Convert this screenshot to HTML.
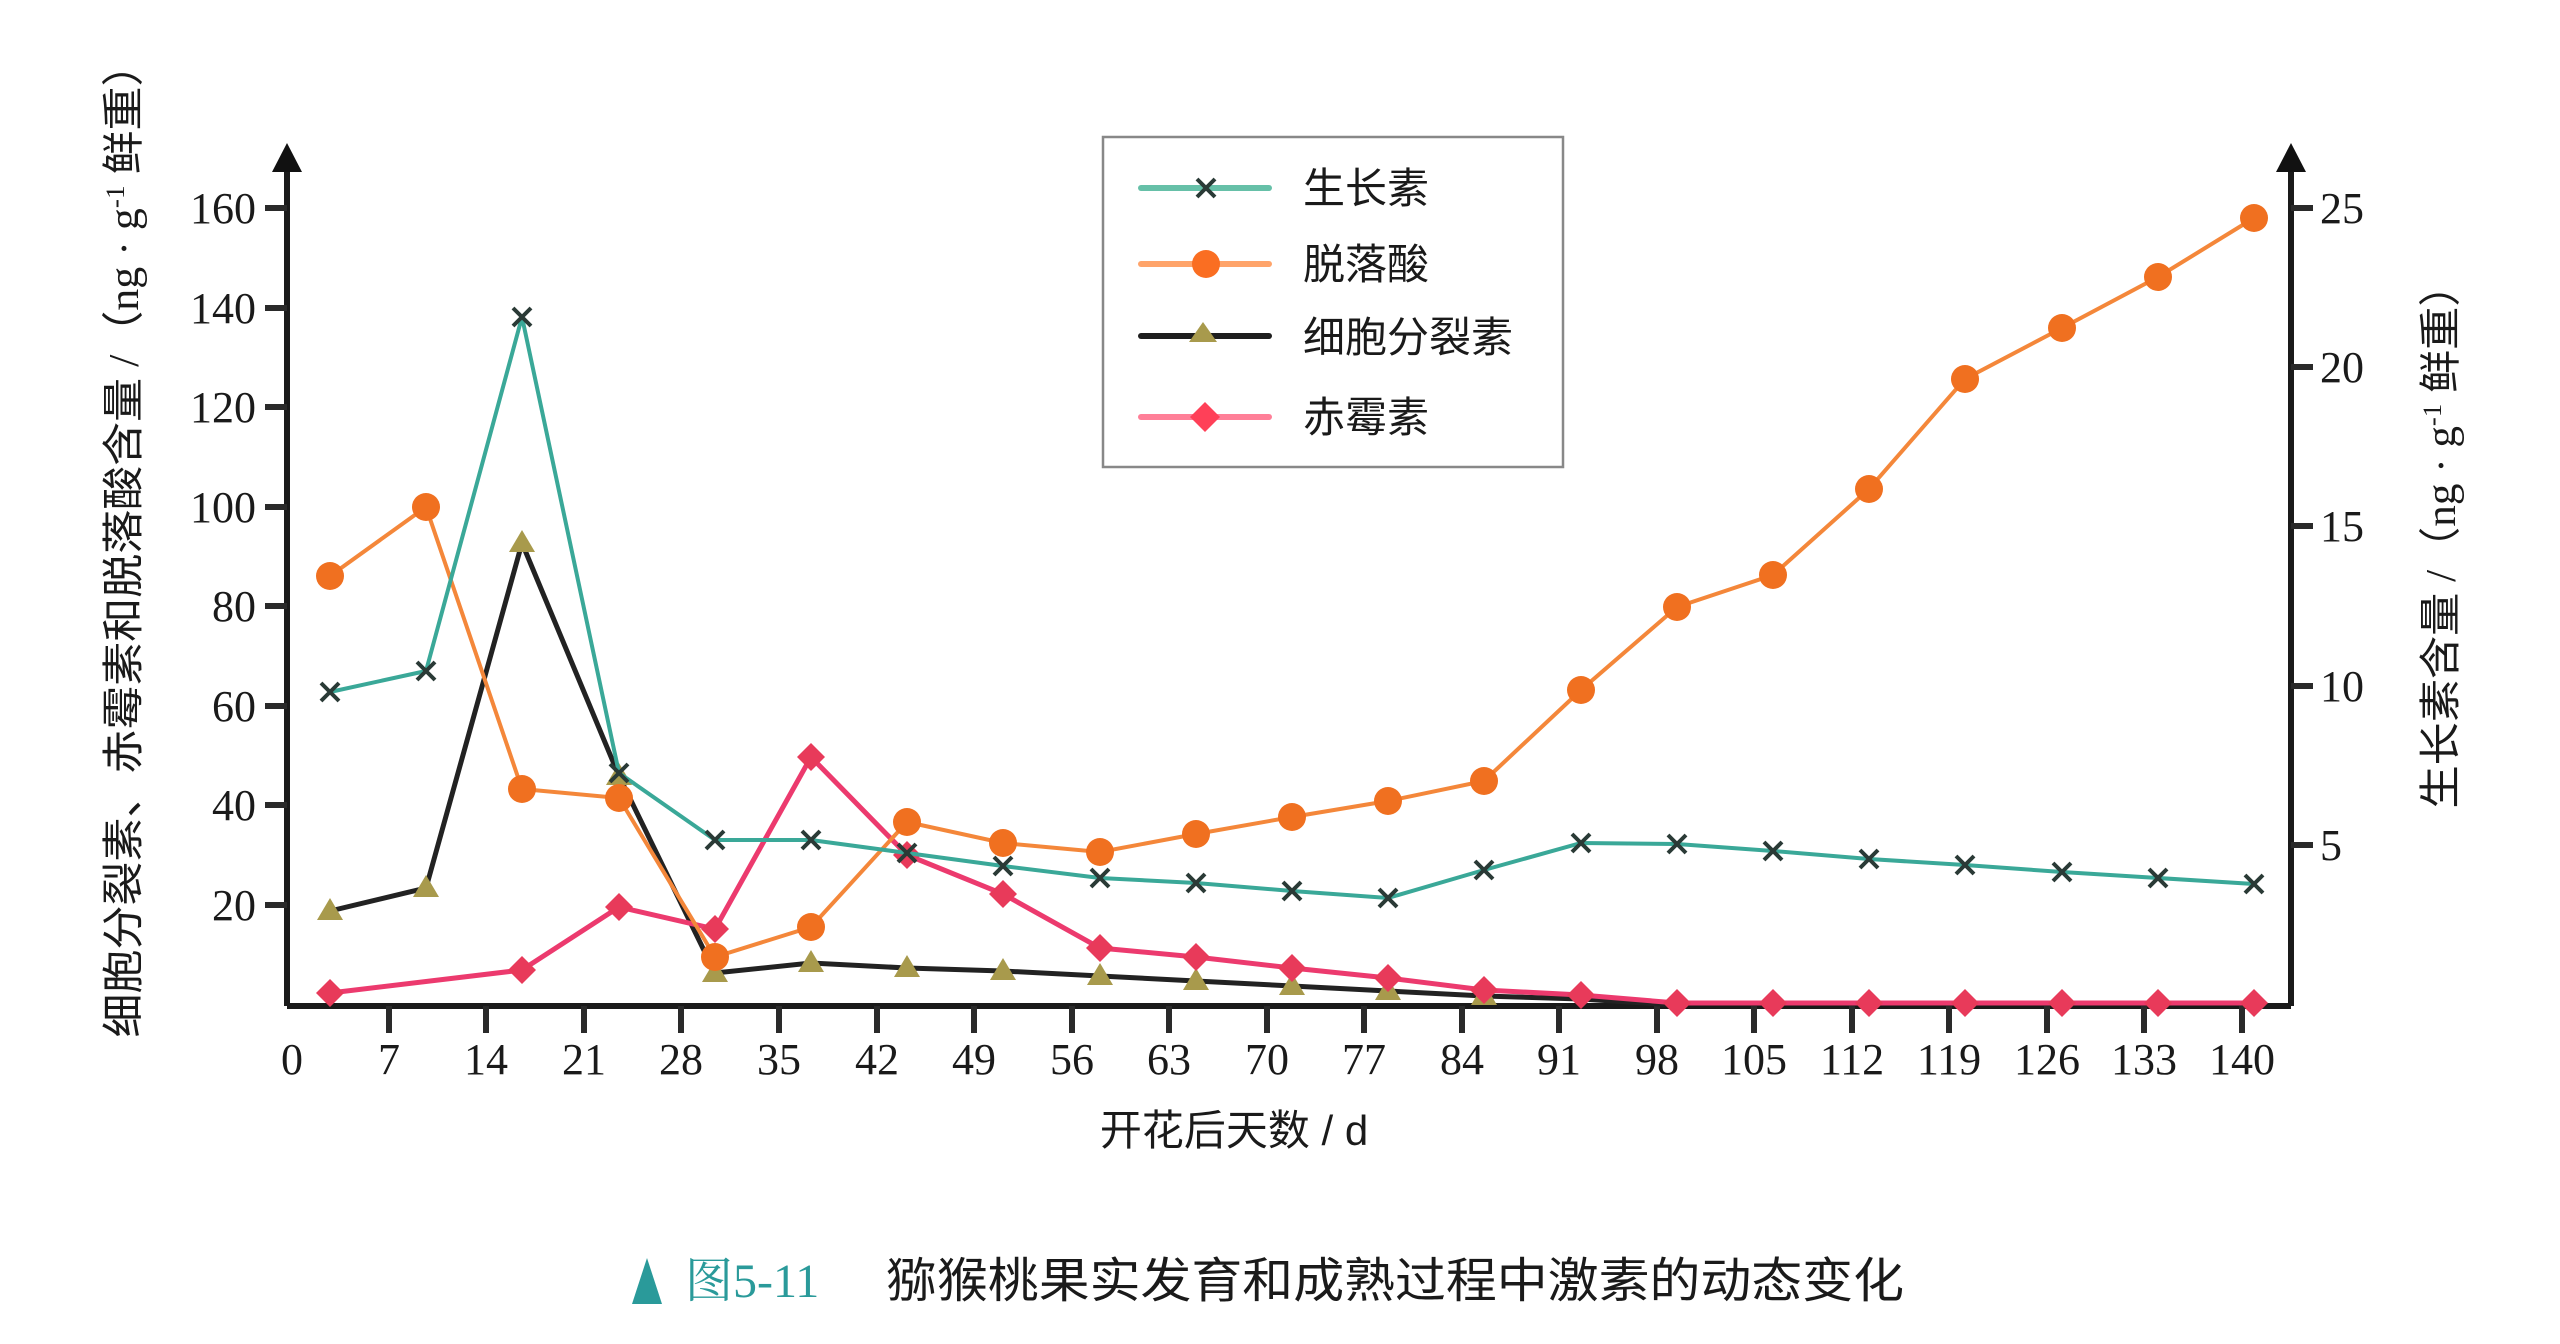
<!DOCTYPE html>
<html><head><meta charset="utf-8"><style>
html,body{margin:0;padding:0;background:#fff;}
svg{display:block;}
</style></head><body>
<svg width="2560" height="1344" viewBox="0 0 2560 1344" xmlns="http://www.w3.org/2000/svg">
<defs>
<g id="xm"><path d="M-9,-9L9,9M-9,9L9,-9" stroke="#2a3a36" stroke-width="4" fill="none"/></g>
<circle id="ci" r="14" fill="#f07020"/>
<path id="tr" d="M0,-13L13,9L-13,9Z" fill="#a89a4c"/>
<path id="di" d="M0,-14L14,0L0,14L-14,0Z" fill="#e83a5a"/>
</defs>
<g stroke="#1a1a1a" stroke-width="6" fill="none">
<path d="M287,1006H2291"/>
<path d="M287,1006V160"/>
<path d="M2291,1006V160"/>
</g>
<path d="M287,143L272,172H302Z" fill="#111"/>
<path d="M2291,143L2276,172H2306Z" fill="#111"/>
<g stroke="#2a2a2a" stroke-width="6">
<path d="M265,208H287M265,308H287M265,407H287M265,507H287M265,606H287M265,706H287M265,805H287M265,905H287"/>
<path d="M2291,208H2313M2291,367H2313M2291,526H2313M2291,686H2313M2291,845H2313"/>
<path d="M389,1006V1033M486,1006V1033M584,1006V1033M681,1006V1033M779,1006V1033M877,1006V1033M974,1006V1033M1072,1006V1033M1169,1006V1033M1267,1006V1033M1364,1006V1033M1462,1006V1033M1559,1006V1033M1657,1006V1033M1754,1006V1033M1852,1006V1033M1949,1006V1033M2047,1006V1033M2144,1006V1033M2242,1006V1033"/>
</g>
<g font-family="Liberation Serif, serif" font-size="44" fill="#1a1a1a">
<g text-anchor="end">
<text x="256" y="223">160</text><text x="256" y="323">140</text><text x="256" y="422">120</text><text x="256" y="522">100</text><text x="256" y="621">80</text><text x="256" y="721">60</text><text x="256" y="820">40</text><text x="256" y="920">20</text>
</g>
<g text-anchor="start">
<text x="2320" y="223">25</text><text x="2320" y="382">20</text><text x="2320" y="541">15</text><text x="2320" y="701">10</text><text x="2320" y="860">5</text>
</g>
<g text-anchor="middle">
<text x="292" y="1074">0</text><text x="389" y="1074">7</text><text x="486" y="1074">14</text><text x="584" y="1074">21</text><text x="681" y="1074">28</text><text x="779" y="1074">35</text><text x="877" y="1074">42</text><text x="974" y="1074">49</text><text x="1072" y="1074">56</text><text x="1169" y="1074">63</text><text x="1267" y="1074">70</text><text x="1364" y="1074">77</text><text x="1462" y="1074">84</text><text x="1559" y="1074">91</text><text x="1657" y="1074">98</text><text x="1754" y="1074">105</text><text x="1852" y="1074">112</text><text x="1949" y="1074">119</text><text x="2047" y="1074">126</text><text x="2144" y="1074">133</text><text x="2242" y="1074">140</text>
</g>
</g>
<text x="1234" y="1145" text-anchor="middle" font-family="Liberation Sans, 'Noto Sans CJK SC', sans-serif" font-size="42" fill="#1a1a1a">开花后天数 / d</text>
<text transform="translate(138,540) rotate(-90)" text-anchor="middle" font-family="Liberation Serif, 'Noto Sans CJK SC', sans-serif" font-size="42" fill="#1a1a1a" textLength="995" lengthAdjust="spacingAndGlyphs">细胞分裂素、赤霉素和脱落酸含量 /（ng · g<tspan dy="-14" font-size="26">-1</tspan><tspan dy="14"> 鲜重）</tspan></text>
<text transform="translate(2455,536) rotate(-90)" text-anchor="middle" font-family="Liberation Serif, 'Noto Sans CJK SC', sans-serif" font-size="42" fill="#1a1a1a" textLength="545" lengthAdjust="spacingAndGlyphs">生长素含量 /（ng · g<tspan dy="-14" font-size="26">-1</tspan><tspan dy="14"> 鲜重）</tspan></text>
<polyline fill="none" stroke="#222" stroke-width="5" points="330,911 426,888 522,543 619,776 715,973 811,963 907,968 1003,971 1100,976 1196,981 1292,986 1388,991 1484,996 1581,999 1677,1005"/>
<g>
<use href="#tr" x="330" y="911"/><use href="#tr" x="426" y="888"/><use href="#tr" x="522" y="543"/><use href="#tr" x="619" y="776"/><use href="#tr" x="715" y="973"/><use href="#tr" x="811" y="963"/><use href="#tr" x="907" y="968"/><use href="#tr" x="1003" y="971"/><use href="#tr" x="1100" y="976"/><use href="#tr" x="1196" y="981"/><use href="#tr" x="1292" y="986"/><use href="#tr" x="1388" y="991"/><use href="#tr" x="1484" y="996"/>
</g>
<polyline fill="none" stroke="#ec3a6e" stroke-width="5" points="330,993 522,970 619,907 715,929 811,757 907,855 1003,894 1100,948 1196,957 1292,968 1388,978 1484,990 1581,995 1677,1003 1773,1003 1869,1003 1965,1003 2062,1003 2158,1003 2254,1003"/>
<g>
<use href="#di" x="330" y="993"/><use href="#di" x="522" y="970"/><use href="#di" x="619" y="907"/><use href="#di" x="715" y="929"/><use href="#di" x="811" y="757"/><use href="#di" x="907" y="855"/><use href="#di" x="1003" y="894"/><use href="#di" x="1100" y="948"/><use href="#di" x="1196" y="957"/><use href="#di" x="1292" y="968"/><use href="#di" x="1388" y="978"/><use href="#di" x="1484" y="990"/><use href="#di" x="1581" y="995"/><use href="#di" x="1677" y="1003"/><use href="#di" x="1773" y="1003"/><use href="#di" x="1869" y="1003"/><use href="#di" x="1965" y="1003"/><use href="#di" x="2062" y="1003"/><use href="#di" x="2158" y="1003"/><use href="#di" x="2254" y="1003"/>
</g>
<polyline fill="none" stroke="#f4873a" stroke-width="4" points="330,576 426,507 522,789 619,798 715,957 811,927 907,822 1003,843 1100,852 1196,834 1292,817 1388,801 1484,781 1581,690 1677,607 1773,575 1869,489 1965,379 2062,328 2158,277 2254,218"/>
<g>
<use href="#ci" x="330" y="576"/><use href="#ci" x="426" y="507"/><use href="#ci" x="522" y="789"/><use href="#ci" x="619" y="798"/><use href="#ci" x="715" y="957"/><use href="#ci" x="811" y="927"/><use href="#ci" x="907" y="822"/><use href="#ci" x="1003" y="843"/><use href="#ci" x="1100" y="852"/><use href="#ci" x="1196" y="834"/><use href="#ci" x="1292" y="817"/><use href="#ci" x="1388" y="801"/><use href="#ci" x="1484" y="781"/><use href="#ci" x="1581" y="690"/><use href="#ci" x="1677" y="607"/><use href="#ci" x="1773" y="575"/><use href="#ci" x="1869" y="489"/><use href="#ci" x="1965" y="379"/><use href="#ci" x="2062" y="328"/><use href="#ci" x="2158" y="277"/><use href="#ci" x="2254" y="218"/>
</g>
<polyline fill="none" stroke="#3aa898" stroke-width="4" points="330,692 426,671 522,317 619,773 715,840 811,840 907,853 1003,866 1100,878 1196,883 1292,891 1388,898 1484,870 1581,843 1677,844 1773,851 1869,859 1965,865 2062,872 2158,878 2254,884"/>
<g>
<use href="#xm" x="330" y="692"/><use href="#xm" x="426" y="671"/><use href="#xm" x="522" y="317"/><use href="#xm" x="619" y="773"/><use href="#xm" x="715" y="840"/><use href="#xm" x="811" y="840"/><use href="#xm" x="907" y="853"/><use href="#xm" x="1003" y="866"/><use href="#xm" x="1100" y="878"/><use href="#xm" x="1196" y="883"/><use href="#xm" x="1292" y="891"/><use href="#xm" x="1388" y="898"/><use href="#xm" x="1484" y="870"/><use href="#xm" x="1581" y="843"/><use href="#xm" x="1677" y="844"/><use href="#xm" x="1773" y="851"/><use href="#xm" x="1869" y="859"/><use href="#xm" x="1965" y="865"/><use href="#xm" x="2062" y="872"/><use href="#xm" x="2158" y="878"/><use href="#xm" x="2254" y="884"/>
</g>
<rect x="1103" y="137" width="460" height="330" fill="#fff" stroke="#888" stroke-width="2.5"/>
<g stroke-width="6" stroke-linecap="round">
<line x1="1141" y1="188" x2="1269" y2="188" stroke="#66c0a8"/>
<line x1="1141" y1="264" x2="1269" y2="264" stroke="#ffa46a"/>
<line x1="1141" y1="336" x2="1269" y2="336" stroke="#1e1e1e"/>
<line x1="1141" y1="417" x2="1269" y2="417" stroke="#ff7f98"/>
</g>
<use href="#xm" x="1206" y="188"/>
<circle cx="1206" cy="264" r="14" fill="#fa6e22"/>
<path d="M1203,322L1217,342H1189Z" fill="#a89a4c"/>
<path d="M1205,402L1220,417L1205,432L1190,417Z" fill="#ff4058"/>
<g font-family="Liberation Sans, 'Noto Sans CJK SC', sans-serif" font-size="42" fill="#1a1a1a">
<text x="1303" y="203">生长素</text>
<text x="1303" y="279">脱落酸</text>
<text x="1303" y="352">细胞分裂素</text>
<text x="1303" y="432">赤霉素</text>
</g>
<path d="M647,1258L662,1304H632Z" fill="#2a9a9a"/>
<text x="685" y="1297" font-family="Liberation Serif, 'Noto Serif CJK SC', serif" font-size="48" fill="#2a9a9a">图5-11</text>
<text x="886" y="1297" font-family="Liberation Sans, 'Noto Sans CJK SC', sans-serif" font-size="48" fill="#1a1a1a" textLength="1018" lengthAdjust="spacingAndGlyphs">猕猴桃果实发育和成熟过程中激素的动态变化</text>
</svg>
</body></html>
